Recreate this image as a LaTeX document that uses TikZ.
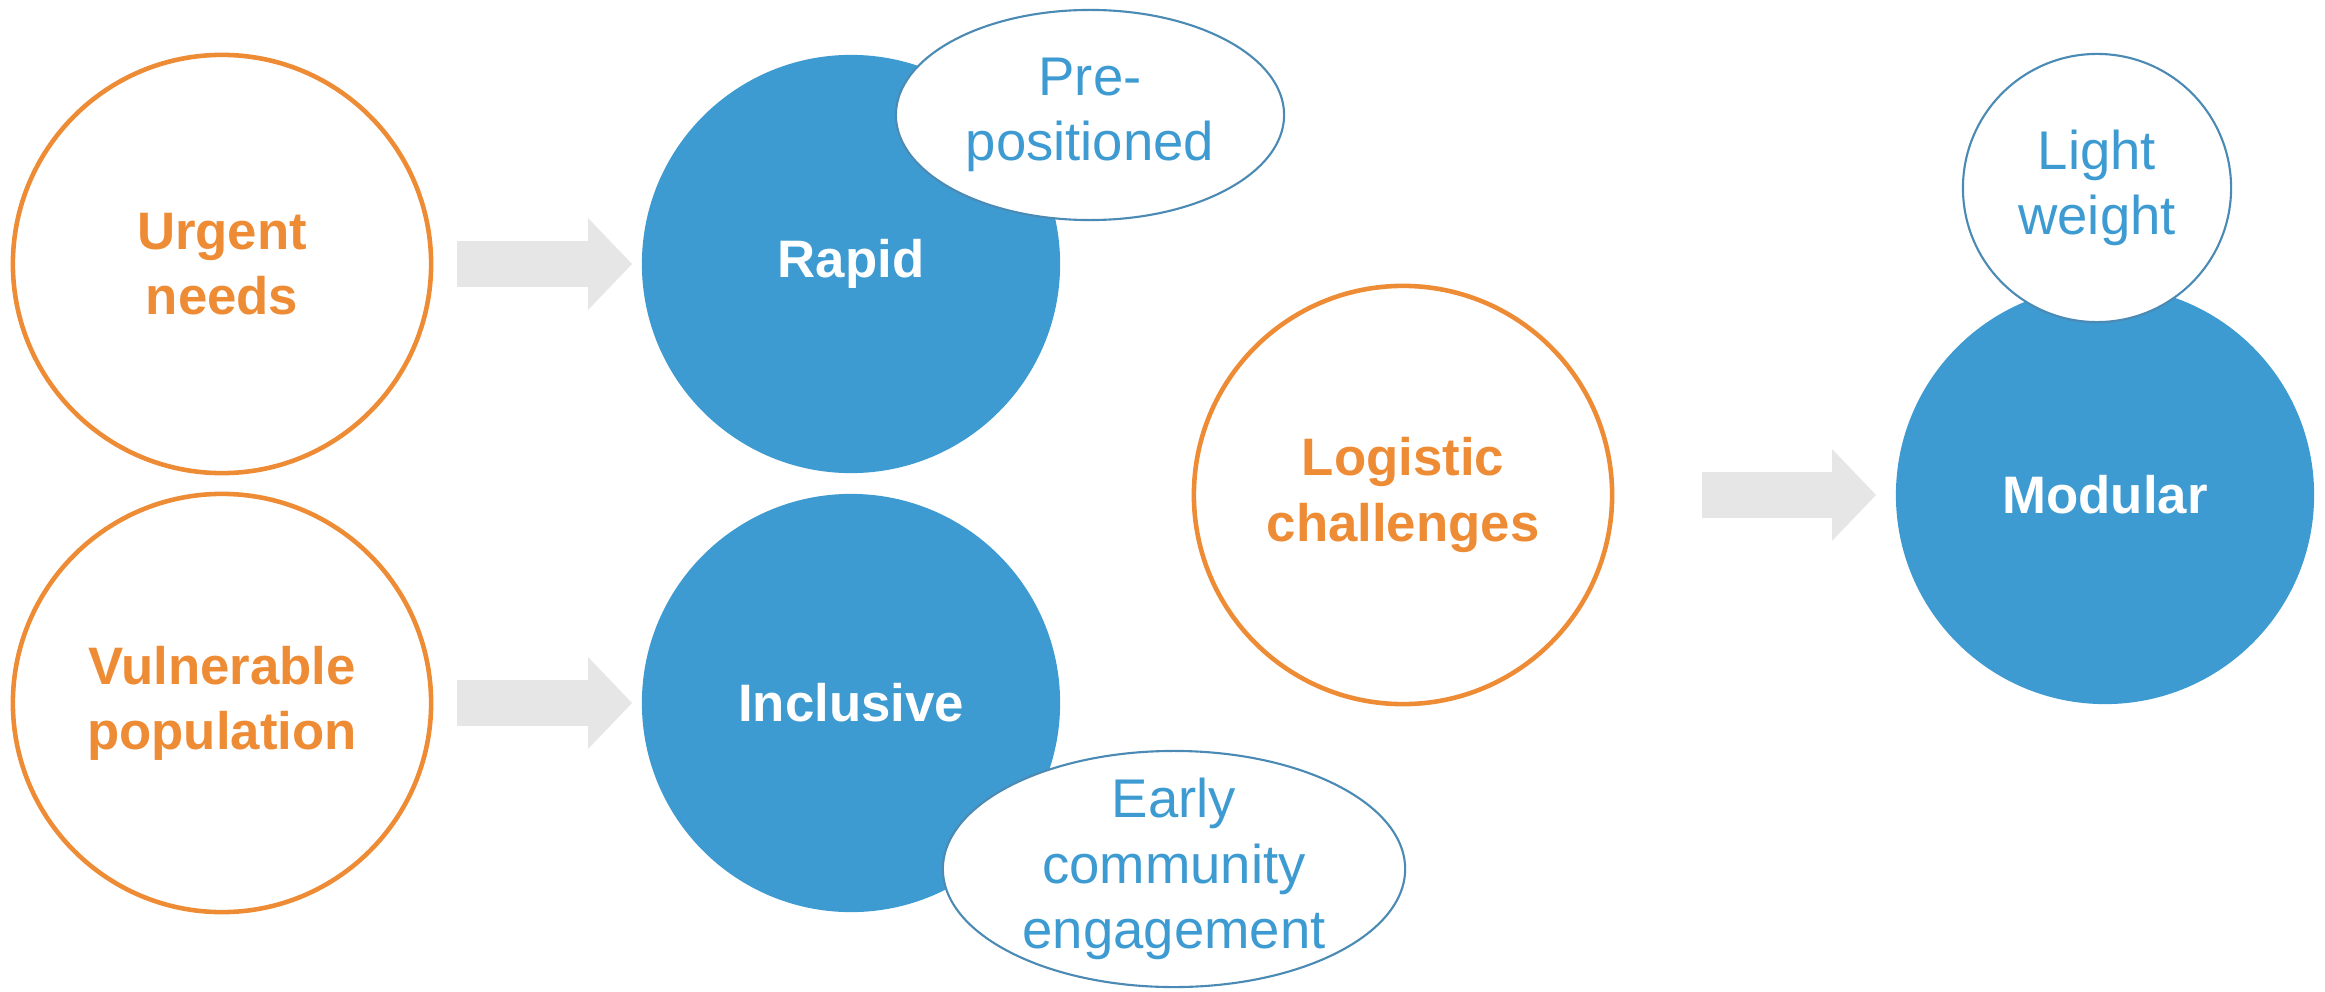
\documentclass[tikz,border=0pt]{standalone}
\usepackage{fontspec}
\setmainfont{Liberation Sans}
\usetikzlibrary{shapes.geometric,arrows.meta}
\definecolor{needorange}{HTML}{EE8B35}
\definecolor{answerblue}{HTML}{3E9BD1}
\definecolor{rimblue}{HTML}{4A8AB4}
\definecolor{arrowgrey}{HTML}{E6E6E6}
\tikzset{
	need/.style={circle,draw=needorange,line width=1.3pt,fill=white,minimum size=4.18cm,inner sep=0pt,align=center,text=needorange,font=\fontsize{15}{18.5}\selectfont\bfseries},
	answer/.style={circle,fill=answerblue,minimum size=4.18cm,inner sep=0pt,align=center,text=white,font=\fontsize{15}{18.5}\selectfont\bfseries},
	feature/.style={draw=rimblue,line width=0.6pt,fill=white,inner sep=0pt},
	featuretext/.style={align=center,text=answerblue,font=\fontsize{15.5}{18.7}\selectfont},
	blockarrow/.style={draw=arrowgrey,line width=0.45cm,-{Triangle[length=0.44cm,width=0.89cm]}},
}
\begin{document}
\begin{tikzpicture}[x=0.01cm,y=-0.01cm]
	\useasboundingbox (0,0) rectangle (2325,991);
	\node[need] (urgent) at (222,264) {Urgent\\needs};
	\node[need] (vulnerable) at (222,703) {Vulnerable\\population};
	\node[answer] (rapid) at (851,264) {Rapid};
		\node[feature,ellipse,minimum width=3.88cm,minimum height=2.10cm] (prepos) at (1090,115) {};
		\node[featuretext] (prepostext) at (prepos) {Pre-\\positioned};
	\node[answer] (inclusive) at (851,703) {Inclusive};
		\node[feature,ellipse,minimum width=4.62cm,minimum height=2.36cm] (early) at (1174,869) {};
		\node[featuretext] (earlytext) at (early) {Early\\community\\engagement};
	\node[need] (logistic) at (1403,495) {Logistic\\challenges};
	\node[answer] (modular) at (2105,495) {Modular};
		\node[feature,circle,minimum size=2.68cm] (light) at (2097,188) {};
		\node[featuretext] (lighttext) at (light) {Light\\weight};

	\draw[blockarrow,shorten <=0.24cm,shorten >=0.09cm] (urgent) -- (rapid);
	\draw[blockarrow,shorten <=0.24cm,shorten >=0.09cm] (vulnerable) -- (inclusive);
	\draw[blockarrow,shorten <=0.88cm,shorten >=0.19cm] (logistic) -- (modular);
\end{tikzpicture}
\end{document}
